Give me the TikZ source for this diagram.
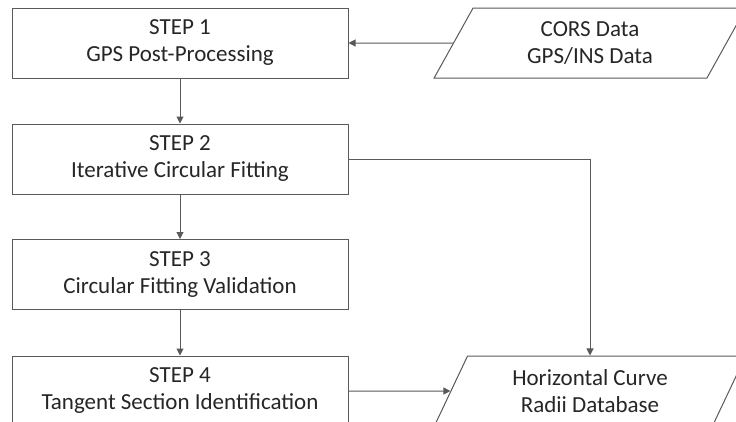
\documentclass[tikz,border=0pt]{standalone}
\usepackage{fontspec}
\setmainfont{Carlito}
\usetikzlibrary{shapes.geometric,arrows.meta}
\definecolor{linegray}{HTML}{595959}
\definecolor{textgray}{HTML}{262626}
\tikzset{
  stepbox/.style={draw=linegray, line width=1pt, minimum width=336pt,
    minimum height=70pt, align=center, inner sep=0pt, text=textgray,
    font=\fontsize{23}{27}\selectfont},
  databox/.style={trapezium, trapezium left angle=64, trapezium right angle=116,
    trapezium stretches=true, draw=linegray, line width=1pt, minimum width=312pt,
    minimum height=70pt, align=center, inner sep=0pt, text=textgray,
    font=\fontsize{23}{27}\selectfont},
  flow/.style={draw=linegray, line width=1pt, -{Triangle[length=7pt,width=7pt]}},
}

\begin{document}
\begin{tikzpicture}[x=1pt, y=-1pt]
\useasboundingbox (0,0) rectangle (736,421);
\clip (0,0) rectangle (736,421);
% processing steps
\node[stepbox] (s1) at (180,43) {STEP 1\\GPS Post-Processing};
\node[stepbox] (s2) at (180,159) {STEP 2\\Iterative Circular Fitting};
\node[stepbox] (s3) at (180,274.5) {STEP 3\\Circular Fitting Validation};
\node[stepbox] (s4) at (180,391) {STEP 4\\Tangent Section Identification};
% input and output data
\node[databox] (cors) at (590,43) {CORS Data\\GPS/INS Data};
\node[databox] (radii) at (590,391) {Horizontal Curve\\Radii Database};
% arrows
\draw[flow] (cors.west) -- (s1.east);
\draw[flow] (s1) -- (s2);
\draw[flow] (s2) -- (s3);
\draw[flow] (s3) -- (s4);
\draw[flow] (s2.east) -| (radii.north);
\draw[flow] (s4.east) -- (radii.west);
\end{tikzpicture}
\end{document}
